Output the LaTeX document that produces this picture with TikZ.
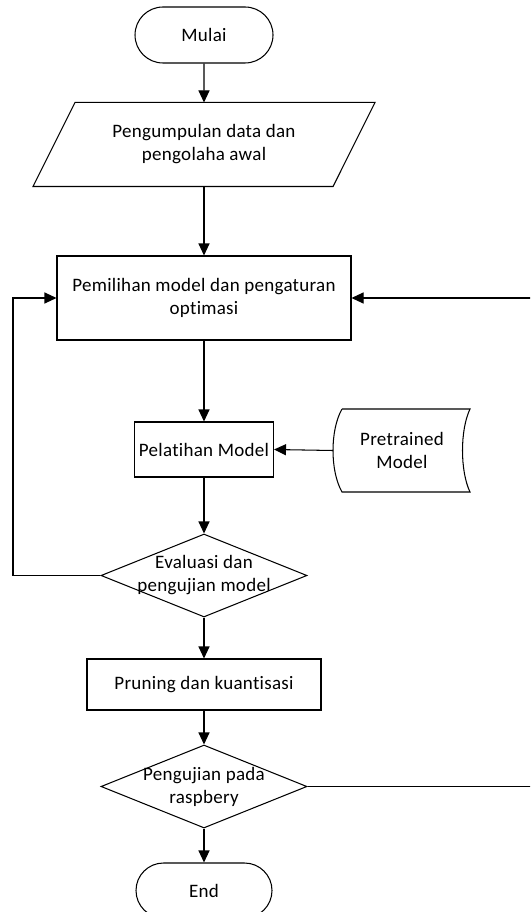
\documentclass[tikz,border=0pt]{standalone}
\usepackage{fontspec}
\setmainfont{Carlito}[Ligatures=NoCommon, LetterSpace=1.5]
\usetikzlibrary{shapes.geometric,shapes.misc,arrows.meta,calc}
\begin{document}
\begin{tikzpicture}[x=1pt,y=-1pt,
  line width=1.05pt,
  every node/.style={font=\fontsize{19}{23}\selectfont, align=center, inner sep=0pt},
  term/.style={rounded rectangle, draw, minimum width=138pt, minimum height=56pt},
  procbox/.style={rectangle, draw},
  decision/.style={diamond, draw, minimum width=206pt, minimum height=83pt},
  arr/.style={-{Triangle[length=12pt,width=11pt]}}]
\useasboundingbox (0,0) rectangle (530,912);
\clip (0,0) rectangle (530,912);

\node[term] (start) at (204,35) {Mulai};

\node[minimum width=299pt, minimum height=83pt] (para) at (204,144.5) {Pengumpulan data dan\\pengolaha awal};
\draw ($(para.south west)+(-21,0)$) -- ($(para.south east)+(-21,0)$)
   -- ($(para.north east)+(21,0)$) -- ($(para.north west)+(21,0)$) -- cycle;

\node[procbox, minimum width=294pt, minimum height=84pt] (sel) at (204,298) {Pemilihan model dan pengaturan\\optimasi};

\node[procbox, minimum width=139pt, minimum height=55pt] (pel) at (204,449.5) {Pelatihan Model};

\node (pre) at (402,450.5) {Pretrained\\Model};
\draw (342,409) -- (470,409) .. controls (460,430) and (460,471) .. (470,492)
   -- (342,492) .. controls (330,471) and (330,430) .. (342,409);
\coordinate (preL) at (333,450.5);

\node[decision] (d1) at (204,575.5) {};
\node (d1t) at (d1.center) {Evaluasi dan\\pengujian model};

\node[procbox, minimum width=234pt, minimum height=51pt] (prun) at (204,684.5) {Pruning dan kuantisasi};

\node[decision] (d2) at (204,786.5) {};
\node (d2t) at (d2.center) {Pengujian pada\\raspbery};

\node[term, minimum width=136pt, minimum height=55pt] (end) at (204,890.5) {End};

\coordinate (lb) at (13,575.5);
\coordinate (rb) at (532,786.5);

\draw[arr] (start) -- (para);
\draw[arr] (para) -- (sel);
\draw[arr] (sel) -- (pel);
\draw[arr] (preL) -- (pel.east);
\draw[arr] (pel) -- (d1);
\draw[arr] (d1.west) -- (lb) |- (sel.west);
\draw[arr] (d1) -- (prun);
\draw[arr] (prun) -- (d2);
\draw[arr] (d2.east) -- (rb) |- (sel.east);
\draw[arr] (d2) -- (end);
\end{tikzpicture}
\end{document}
